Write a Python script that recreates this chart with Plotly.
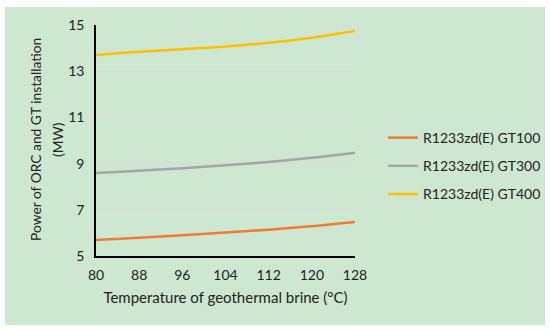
import plotly.graph_objects as go

temps = [80, 88, 96, 104, 112, 120, 128]
gt100 = [5.69, 5.79, 5.90, 6.02, 6.14, 6.29, 6.47]
gt300 = [8.59, 8.69, 8.80, 8.93, 9.07, 9.25, 9.47]
gt400 = [13.70, 13.84, 13.95, 14.07, 14.23, 14.45, 14.74]
names = ["R1233zd(E) GT100", "R1233zd(E) GT300", "R1233zd(E) GT400"]
colors = ["#ED7D31", "#A5A5A5", "#FFC000"]
x_ticks = [80, 88, 96, 104, 112, 120, 128]
y_ticks = [5, 7, 9, 11, 13, 15]
y_title_lines = ["Power of ORC and GT installation", "(MW)"]

fig = go.Figure()
for i, (name, vals, c) in enumerate(zip(names, [gt100, gt300, gt400], colors)):
    fig.add_trace(go.Scatter(x=temps, y=vals, name=name, mode="lines",
                             legendgroup=f"g{i}",
                             line=dict(color=c, width=2.5, shape="spline")))

W, H = 550, 331
l, r, t, b = 96, 195, 25, 75
pw, ph = W - l - r, H - t - b

def px(x):
    return (x - l) / pw

def py(y):
    return (H - b - y) / ph

fig.add_shape(type="rect", xref="paper", yref="paper",
              x0=px(5), x1=px(545), y0=py(325), y1=py(7),
              fillcolor="#CDE7D1", line=dict(width=0), layer="below")

for xpos, txt in zip([35, 57], y_title_lines):
    fig.add_annotation(x=px(xpos), y=py(140), xref="paper", yref="paper",
                       text=txt, textangle=-90, showarrow=False,
                       xanchor="center", yanchor="middle",
                       font=dict(size=13.8, color="#222"))

font = "Lato, Open Sans, sans-serif"
fig.update_layout(
    width=W, height=H,
    margin=dict(l=l, r=r, t=t, b=b, autoexpand=False),
    paper_bgcolor="white", plot_bgcolor="rgba(0,0,0,0)",
    font=dict(family=font, size=14, color="#222"),
    showlegend=True,
    legend=dict(x=px(383), y=py(166), xanchor="left", yanchor="middle",
                bgcolor="rgba(0,0,0,0)", font=dict(size=14, color="#222"),
                tracegroupgap=7, itemwidth=30),
    xaxis=dict(range=[80, 128], tickvals=x_ticks, showgrid=False,
               showline=True, linecolor="black", linewidth=1.5,
               ticks="", zeroline=False, automargin=False,
               ticklabelstandoff=5,
               title=dict(text="Temperature of geothermal brine (°C)", standoff=11,
                          font=dict(size=15))),
    yaxis=dict(range=[5, 15], tickvals=y_ticks, showgrid=True,
               gridcolor="#D9D9D9", gridwidth=1,
               showline=True, linecolor="black", linewidth=1.5,
               ticks="", zeroline=False, automargin=False,
               ticklabelstandoff=7),
)
fig.write_html("out.html", config={"displayModeBar": False},
               post_script="document.body.style.margin='0';")
